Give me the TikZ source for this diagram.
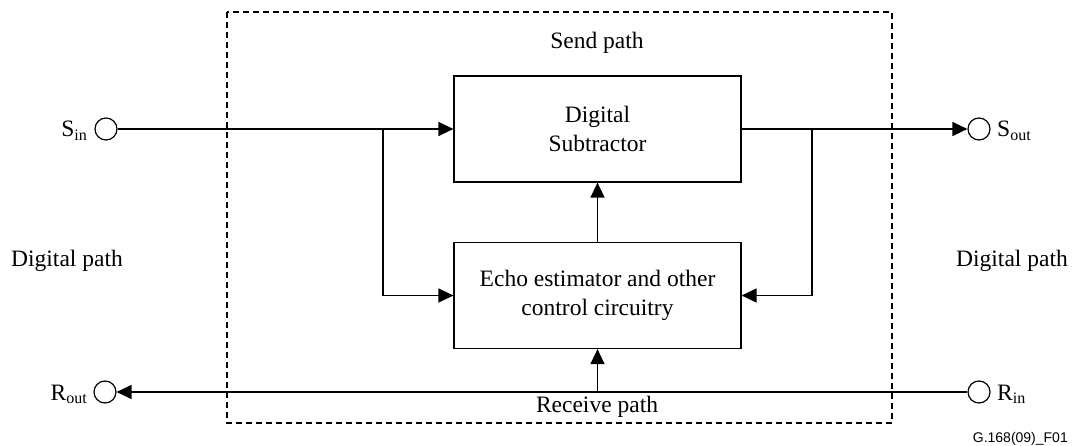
\documentclass[tikz,border=0pt]{standalone}
\usepackage{fontspec}
\setmainfont{Liberation Serif}
\newfontfamily\labelsans{Liberation Sans}
\usetikzlibrary{arrows.meta}
\newcommand\mysub[1]{\raisebox{-0.35ex}{\fontsize{16}{16}\selectfont #1}}
\begin{document}
\begin{tikzpicture}[x=1pt,y=-1pt,
  txt/.style={font=\fontsize{23.5}{28}\selectfont, inner sep=0pt},
  blk/.style={draw, line width=1.2pt, minimum width=287pt, minimum height=106pt, align=center, inner sep=0pt, font=\fontsize{23.5}{29}\selectfont},
  port/.style={draw, circle, line width=1.2pt, minimum size=22pt, inner sep=0pt},
  wire/.style={line width=1.3pt},
  arr/.style={wire, -{Triangle[length=15pt,width=14pt]}},
  frame/.style={line width=1.1pt, dash pattern=on 6pt off 4pt}
]
\useasboundingbox (0,0) rectangle (1073,446);
\draw[frame] (227,12) rectangle (892,423);

\node[blk] (sub) at (597.5,129) {Digital\\Subtractor};
\node[blk] (echo) at (597.5,295.5) {Echo estimator and other\\control circuitry};

\node[port] (sin) at (106,129) {};
\node[port] (sout) at (979,129) {};
\node[port] (rout) at (105,392) {};
\node[port] (rin) at (979,392) {};

\node[txt, anchor=base east] (sinl) at (87,137) {S\mysub{in}};
\node[txt, anchor=base west] (soutl) at (997,137) {S\mysub{out}};
\node[txt, anchor=base east] (routl) at (87,400) {R\mysub{out}};
\node[txt, anchor=base west] (rinl) at (997,400) {R\mysub{in}};

\node[txt] (send) at (597,43) {Send path};
\node[txt] (recv) at (597,407) {Receive path};
\node[txt, anchor=base west] (dpl) at (11,267) {Digital path};
\node[txt, anchor=base east] (dpr) at (1068,267) {Digital path};
\node[anchor=base east, inner sep=0pt, font=\labelsans\fontsize{14}{16}\selectfont] (fig) at (1068,442) {G.168(09)\_F01};

\coordinate (tl) at (383,129);
\coordinate (tr) at (812,129);
\coordinate (rx) at (597.5,392);

\draw[arr] (sin.east) -- (sub.west);
\draw[arr] (sub.east) -- (sout.west);
\draw[arr] (tl) |- (echo.west);
\draw[arr] (tr) |- (echo.east);
\draw[arr] (echo.north) -- (sub.south);
\draw[arr] (rin.west) -- (rout.east);
\draw[arr] (rx) -- (echo.south);
\end{tikzpicture}
\end{document}
